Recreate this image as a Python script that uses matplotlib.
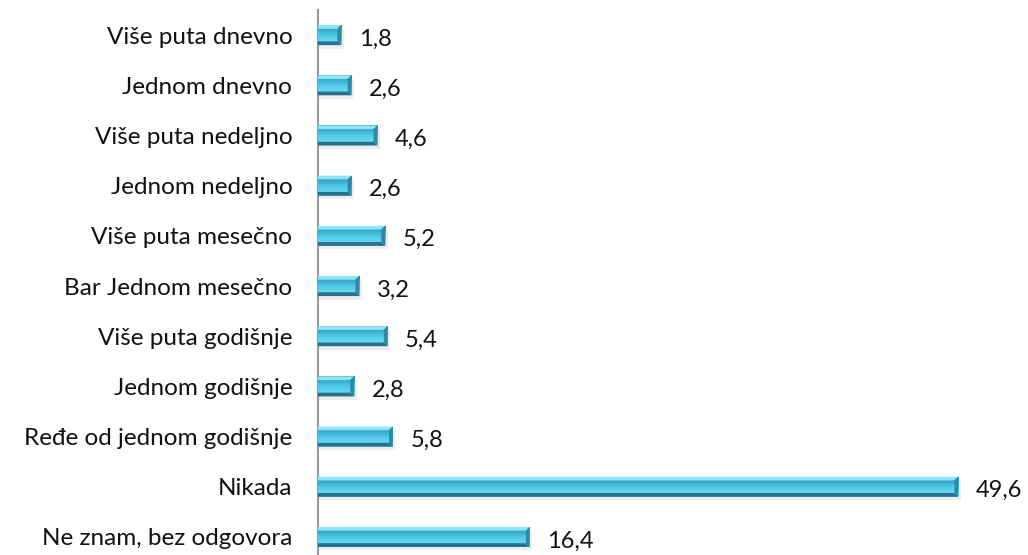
import numpy as np
import matplotlib.pyplot as plt
from matplotlib.patches import Polygon
from matplotlib.colors import LinearSegmentedColormap

categories = ['Više puta dnevno', 'Jednom dnevno', 'Više puta nedeljno', 'Jednom nedeljno',
              'Više puta mesečno', 'Bar Jednom mesečno', 'Više puta godišnje', 'Jednom godišnje',
              'Ređe od jednom godišnje', 'Nikada', 'Ne znam, bez odgovora']
values = [1.8, 2.6, 4.6, 2.6, 5.2, 3.2, 5.4, 2.8, 5.8, 49.6, 16.4]
value_labels = ['1,8', '2,6', '4,6', '2,6', '5,2', '3,2', '5,4', '2,8', '5,8', '49,6', '16,4']

plt.rcParams['font.family'] = ['Lato', 'DejaVu Sans']

fig = plt.figure(figsize=(10.28, 5.55), dpi=100)
ax = fig.add_axes([318 / 1028, 0, 710 / 1028, 545 / 555])

y = np.arange(len(categories))
h = 0.40
bars = ax.barh(y, values, height=h, color='#3fb4d4', zorder=2)

grad = LinearSegmentedColormap.from_list('g', ['#2b7d95', '#38a6c6', '#4cc6e6', '#62d6f1', '#7ce1f7'])
gimg = np.linspace(0, 1, 64).reshape(-1, 1)
bx = 0.30   # bevel width in data units (x)
by = 0.075  # bevel height in data units (y)
for i, (yi, v, b) in enumerate(zip(y, values, bars)):
    top = yi - h / 2
    bot = yi + h / 2
    # soft shadow under the bar
    ax.barh(yi + 0.07, v + 0.15, height=h, left=0.05, color='#000000', alpha=0.07, zorder=1)
    im = ax.imshow(gimg, extent=(0, v, bot, top), aspect='auto', cmap=grad, zorder=3,
                   interpolation='bilinear')
    im.set_clip_path(b)
    # top bevel (light)
    ax.add_patch(Polygon([(0, top), (v, top), (v - bx, top + by), (0, top + by)],
                         closed=True, color='#8de6f7', lw=0, zorder=4))
    # bottom bevel (dark)
    ax.add_patch(Polygon([(0, bot), (v, bot), (v - bx, bot - by), (0, bot - by)],
                         closed=True, color='#27718a', lw=0, zorder=4))
    # right end bevel
    ax.add_patch(Polygon([(v, top), (v, bot), (v - bx, bot - by), (v - bx, top + by)],
                         closed=True, color='#2d8aa5', lw=0, zorder=4))
    ax.text(v + 1.35, yi + 0.08, value_labels[i], va='center', ha='left',
            fontsize=17, color='#111111')

ax.set_xlim(0, 55)
ax.set_ylim(10.36, -0.5)
ax.set_yticks(y)
ax.set_yticklabels(categories, fontsize=17.5, color='#111111')
ax.tick_params(axis='y', length=0, pad=18.5)
ax.set_xticks([])
for s in ['top', 'right', 'bottom']:
    ax.spines[s].set_visible(False)
ax.spines['left'].set_color('#999999')
ax.spines['left'].set_linewidth(1.5)

fig.savefig('out.png', dpi=100)
